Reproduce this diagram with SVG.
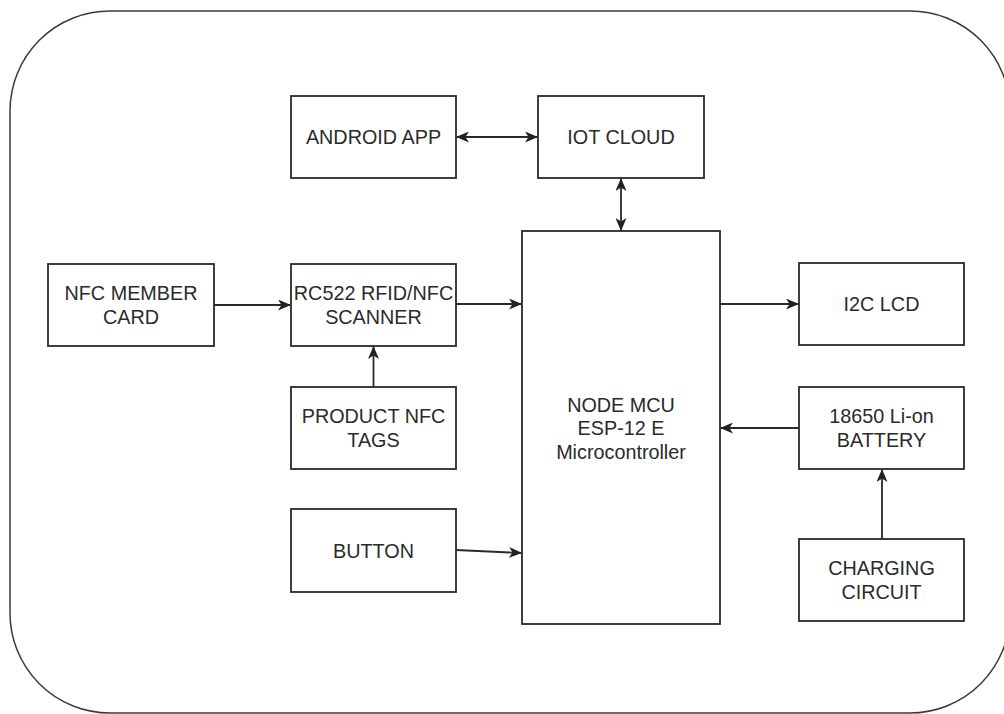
<svg xmlns="http://www.w3.org/2000/svg" width="1004" height="714" viewBox="0 0 1004 714">
<defs>
<marker id="arr" viewBox="0 0 13 11" refX="12" refY="5.5" markerWidth="13" markerHeight="11" markerUnits="userSpaceOnUse" orient="auto-start-reverse">
<path d="M0,0 L13,5.5 L0,11 L3.5,5.5 Z" fill="#222"/>
</marker>
</defs>
<style>
.box{fill:#fff;stroke:#2a2a2a;stroke-width:1.8}
.frame{fill:#fff;stroke:#3a3a3a;stroke-width:1.5}
.t{font-family:"Liberation Sans",Arial,sans-serif;font-size:19.8px;fill:#2a2a2a;text-anchor:middle;dominant-baseline:central}
.c{fill:none;stroke:#2a2a2a;stroke-width:1.8}
</style>
<rect width="1004" height="714" fill="#fff"/>
<rect class="frame" x="10" y="11" width="1000" height="702" rx="100" ry="100"/>
<g id="android"><rect class="box" x="291" y="96" width="165" height="82"/><text class="t" x="373.5" y="137">ANDROID APP</text></g>
<g id="iot"><rect class="box" x="538" y="96" width="166" height="82"/><text class="t" x="621" y="137">IOT CLOUD</text></g>
<g id="nfccard"><rect class="box" x="48" y="264" width="166" height="82"/><text class="t" x="131" y="293">NFC MEMBER</text><text class="t" x="131" y="317">CARD</text></g>
<g id="rc522"><rect class="box" x="291" y="264" width="165" height="82"/><text class="t" x="373.5" y="293">RC522 RFID/NFC</text><text class="t" x="373.5" y="317">SCANNER</text></g>
<g id="lcd"><rect class="box" x="799" y="263" width="165" height="82"/><text class="t" x="881.5" y="304">I2C LCD</text></g>
<g id="mcu"><rect class="box" x="522" y="231" width="198" height="393"/><text class="t" x="621" y="405">NODE MCU</text><text class="t" x="621" y="428">ESP-12 E</text><text class="t" x="621" y="452">Microcontroller</text></g>
<g id="tags"><rect class="box" x="291" y="387" width="165" height="82"/><text class="t" x="373.5" y="416">PRODUCT NFC</text><text class="t" x="373.5" y="440">TAGS</text></g>
<g id="button"><rect class="box" x="291" y="509" width="165" height="83"/><text class="t" x="373.5" y="551">BUTTON</text></g>
<g id="battery"><rect class="box" x="799" y="387" width="165" height="82"/><text class="t" x="881.5" y="416">18650 Li-on</text><text class="t" x="881.5" y="440">BATTERY</text></g>
<g id="charging"><rect class="box" x="799" y="539" width="165" height="82"/><text class="t" x="881.5" y="568">CHARGING</text><text class="t" x="881.5" y="592">CIRCUIT</text></g>
<g id="connectors">
<line class="c" x1="457" y1="137" x2="537" y2="137" marker-start="url(#arr)" marker-end="url(#arr)"/>
<line class="c" x1="621" y1="179" x2="621" y2="230" marker-start="url(#arr)" marker-end="url(#arr)"/>
<line class="c" x1="214" y1="305" x2="290" y2="305" marker-end="url(#arr)"/>
<line class="c" x1="456" y1="304" x2="521" y2="304" marker-end="url(#arr)"/>
<line class="c" x1="720" y1="304" x2="798" y2="304" marker-end="url(#arr)"/>
<line class="c" x1="373.5" y1="387" x2="373.5" y2="347" marker-end="url(#arr)"/>
<line class="c" x1="456" y1="550" x2="521" y2="553" marker-end="url(#arr)"/>
<line class="c" x1="799" y1="428" x2="721" y2="428" marker-end="url(#arr)"/>
<line class="c" x1="882" y1="539" x2="882" y2="470" marker-end="url(#arr)"/>
</g>
</svg>
